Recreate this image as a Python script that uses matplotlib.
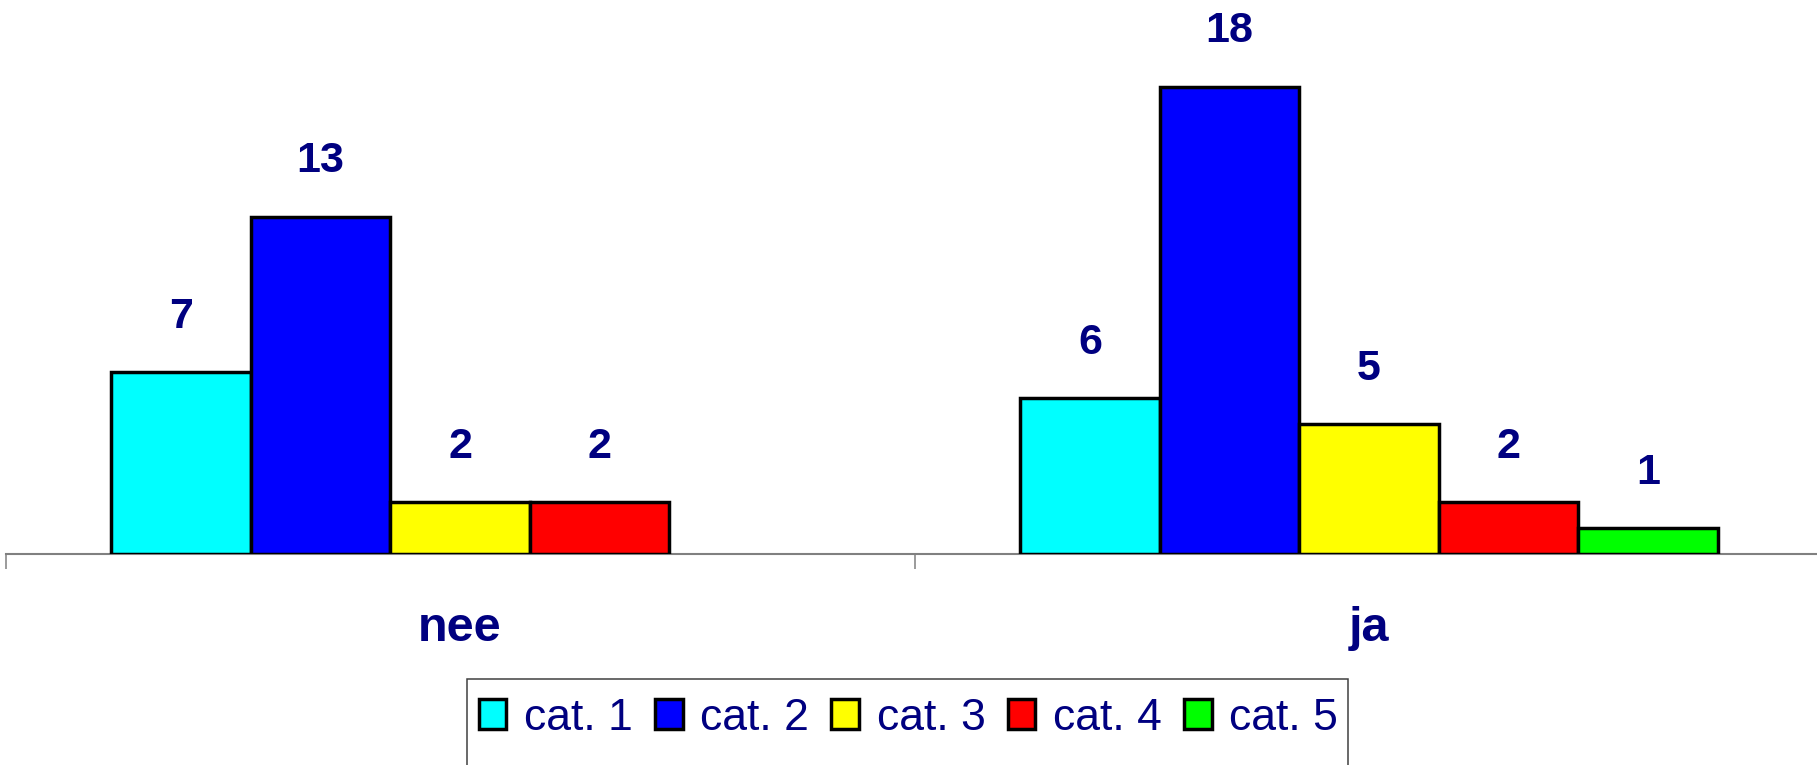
import matplotlib
matplotlib.use('Agg')
import matplotlib.pyplot as plt
from matplotlib.patches import Rectangle
import numpy as np

# data
groups = ['nee', 'ja']
series = ['cat. 1', 'cat. 2', 'cat. 3', 'cat. 4', 'cat. 5']
values = {
    'cat. 1': [7, 6],
    'cat. 2': [13, 18],
    'cat. 3': [2, 5],
    'cat. 4': [2, 2],
    'cat. 5': [0, 1],
}
colors = ['#00FFFF', '#0000FF', '#FFFF00', '#FF0000', '#00FF00']
navy = '#000080'

plt.rcParams['font.family'] = ['Liberation Sans', 'DejaVu Sans']

W, H = 1817, 765
fig = plt.figure(figsize=(W / 100, H / 100), dpi=100)
ax = fig.add_axes([5.5 / W, 211 / H, 1818 / W, 554 / H])

x = np.arange(len(groups))
w = 0.1535
for i, (name, col) in enumerate(zip(series, colors)):
    vals = values[name]
    pos = x + (i - 2) * w
    # skip empty bars (nee has no cat. 5)
    keep = [j for j, v in enumerate(vals) if v > 0]
    ax.bar(pos[keep], [vals[j] for j in keep], width=w, color=col,
           edgecolor='black', linewidth=2.5, label=name, zorder=3)
    for j in keep:
        ax.annotate(str(vals[j]), (pos[j], vals[j]), xytext=(0, 32),
                    textcoords='offset points', ha='center', va='baseline',
                    fontsize=31, fontweight='bold', color=navy)

ax.set_xlim(-0.5, 1.5)
ax.set_ylim(0, 21.35)
for s in ['top', 'right', 'left']:
    ax.spines[s].set_visible(False)
ax.spines['bottom'].set_color('#808080')
ax.spines['bottom'].set_linewidth(1.5)
ax.set_yticks([])
ax.set_xticks([-0.5, 0.5, 1.5])
ax.set_xticklabels([])
ax.tick_params(axis='x', length=11, width=1.1, color='#808080')

for xi, g in zip(x, groups):
    ax.text(xi, -87 / 554, g, transform=ax.get_xaxis_transform(),
            ha='center', va='baseline', fontsize=35, fontweight='bold',
            color=navy)

leg = fig.legend(loc='center', bbox_to_anchor=(0.5, 47 / H), ncol=5,
                 frameon=False, fontsize=32, handlelength=0.62,
                 handleheight=0.66, handletextpad=0.4, columnspacing=0.5,
                 borderpad=0)
for t in leg.get_texts():
    t.set_color(navy)
for h in leg.legend_handles:
    h.set_linewidth(2.5)

fig.patches.append(Rectangle((467 / W, -0.1), (1348 - 467) / W, 0.1 + 86.5 / H,
                             transform=fig.transFigure, fill=False,
                             edgecolor='#404040', linewidth=1.1))

fig.savefig('out.png', dpi=100, facecolor='white')
